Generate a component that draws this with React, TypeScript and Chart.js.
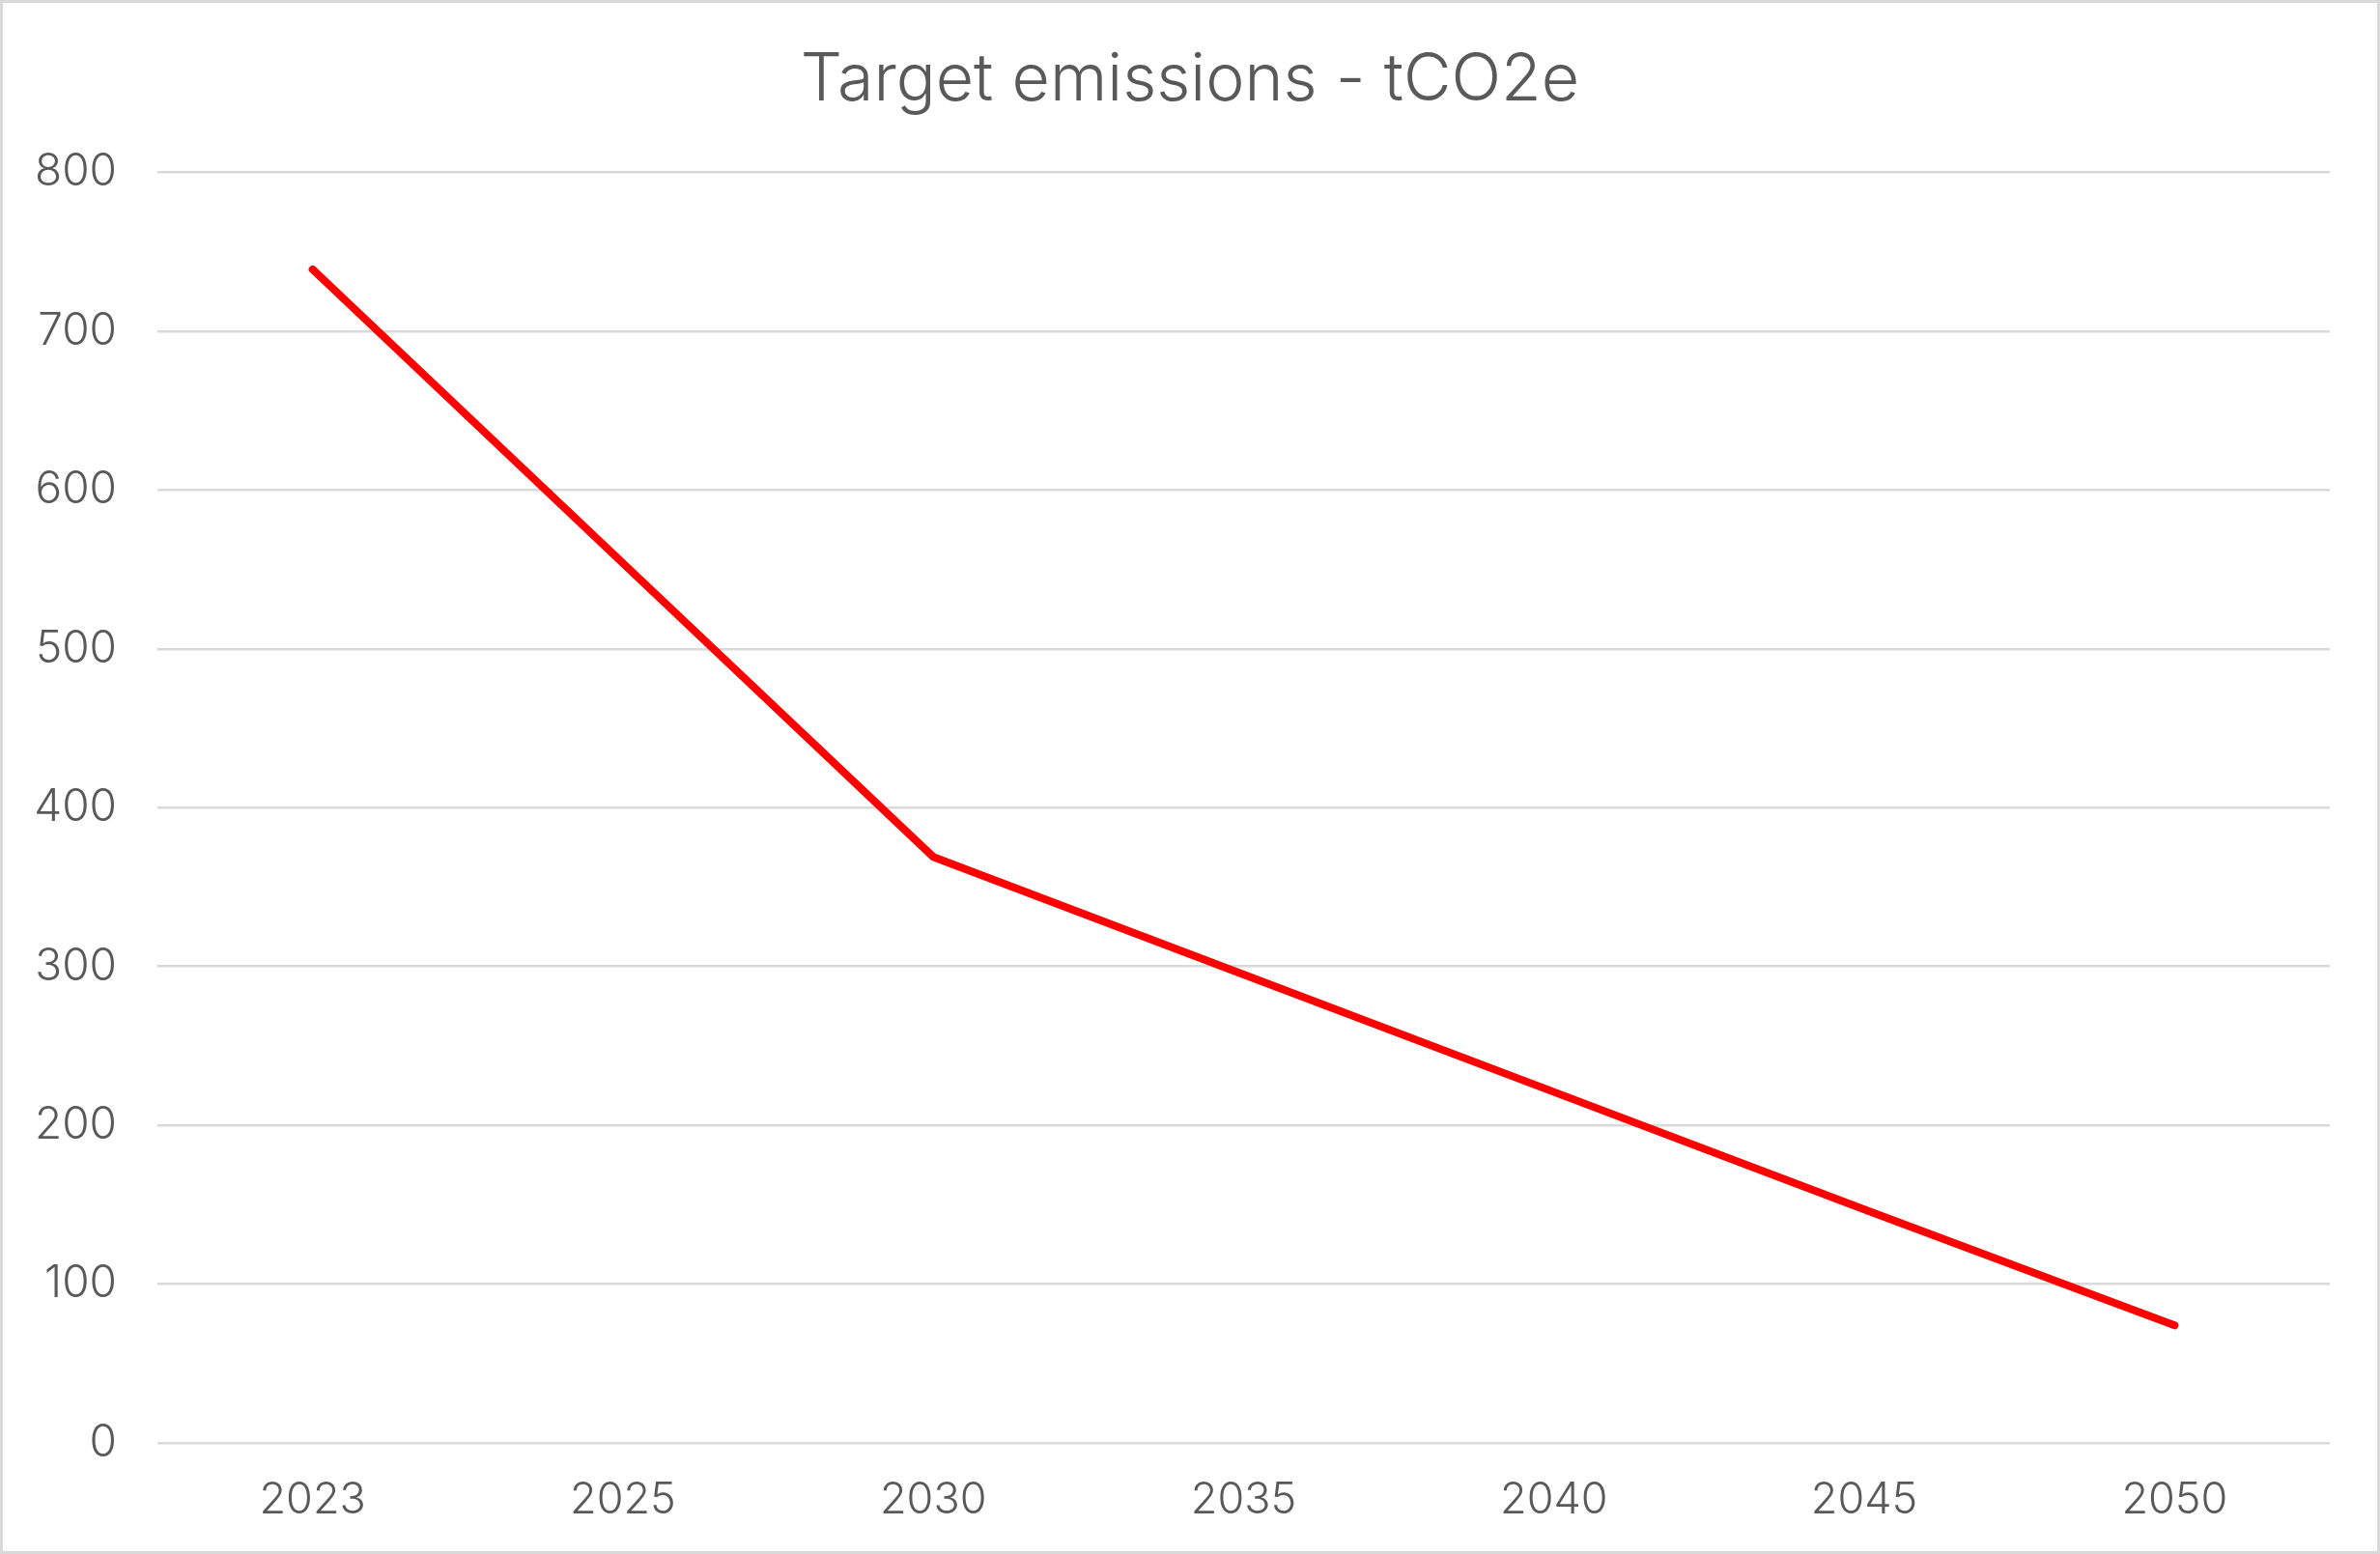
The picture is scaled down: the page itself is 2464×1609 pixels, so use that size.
import React, { useEffect, useRef } from "react";
import { Chart, registerables } from "chart.js";

Chart.register(...registerables);

const years = ["2023", "2025", "2030", "2035", "2040", "2045", "2050"];
const emissions = [739, 554, 369, 295, 221, 147, 74];
const yTicks = [0, 100, 200, 300, 400, 500, 600, 700, 800];
const chartTitle = "Target emissions - tCO2e";

const FONT = "Inter";

export default function App() {
  const ref = useRef<HTMLCanvasElement | null>(null);

  useEffect(() => {
    document.body.style.margin = "0";
    const ctx = ref.current;
    if (!ctx) return;
    const chart = new Chart(ctx, {
      type: "line",
      data: {
        labels: years,
        datasets: [
          {
            label: "Target",
            data: emissions,
            borderColor: "#ff0000",
            backgroundColor: "#ff0000",
            borderWidth: 8,
            borderCapStyle: "round",
            borderJoinStyle: "miter",
            pointRadius: 0,
            tension: 0,
          },
        ],
      },
      options: {
        animation: false,
        responsive: false,
        devicePixelRatio: 1,
        layout: { padding: { top: 0, left: 0, right: 0, bottom: -6 } },
        plugins: {
          legend: { display: false },
          tooltip: { enabled: false },
          title: {
            display: true,
            text: chartTitle,
            color: "#595959",
            font: { family: FONT, size: 68, weight: 300 },
            padding: { top: 40, bottom: 54 },
          },
        },
        scales: {
          x: {
            offset: true,
            grid: { display: false, drawTicks: false },
            border: { display: false },
            ticks: {
              color: "#595959",
              font: { family: FONT, size: 45, weight: 300 },
              padding: 32,
            },
          },
          y: {
            min: 0,
            max: 800,
            afterBuildTicks: (scale: any) => {
              scale.ticks = yTicks.map((v) => ({ value: v }));
            },
            afterFit: (scale: any) => {
              scale.width = 160;
            },
            grid: { color: "#d9d9d9", lineWidth: 2.5, drawTicks: false },
            border: { display: false },
            ticks: {
              color: "#595959",
              font: { family: FONT, size: 46, weight: 300 },
              padding: 42,
            },
          },
          spacer: {
            type: "linear",
            position: "right",
            min: 0,
            max: 800,
            grid: { display: false, drawTicks: false },
            border: { display: false },
            ticks: { display: false },
            afterFit: (scale: any) => {
              scale.width = 49;
            },
          },
        },
      },
    });
    return () => chart.destroy();
  }, []);

  return (
    <div
      style={{
        position: "absolute",
        left: 0,
        top: 0,
        width: 2464,
        height: 1609,
        boxSizing: "border-box",
        border: "3px solid #d9d9d9",
        background: "#ffffff",
      }}
    >
      <canvas ref={ref} width={2458} height={1603} style={{ display: "block" }} />
    </div>
  );
}
